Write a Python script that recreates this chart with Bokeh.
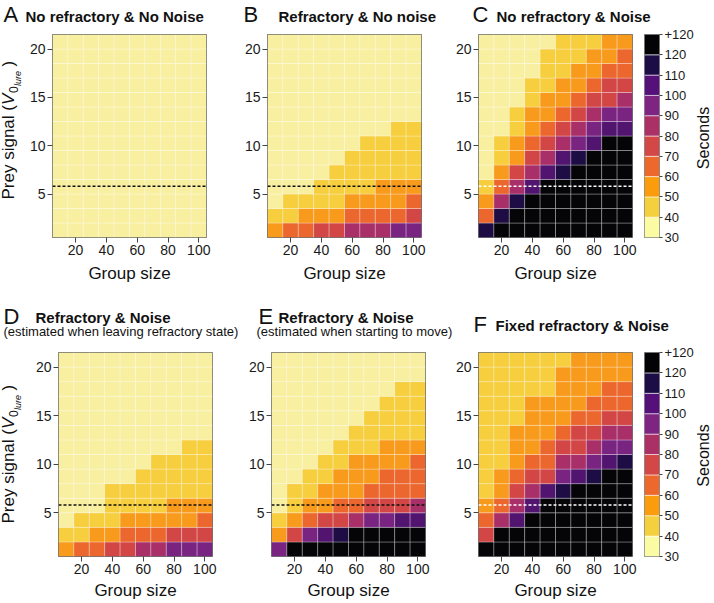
import math
from bokeh.plotting import figure
from bokeh.models import (ColumnDataSource, LinearColorMapper, FixedTicker, Span,
                          Label, Range1d)
from bokeh.layouts import row, column
from bokeh.transform import transform
from bokeh.embed import file_html
from bokeh.resources import INLINE

# ---------------- data ----------------
group_sizes = [10, 20, 30, 40, 50, 60, 70, 80, 90, 100]
prey_signal = [1.25, 2.75, 4.25, 5.75, 7.25, 8.75, 10.25, 11.75,
               13.25, 14.75, 16.25, 17.75, 19.25, 20.75]
x_ticks = [20, 40, 60, 80, 100]
y_ticks = [5, 10, 15, 20]
band_edges = [30, 40, 50, 60, 70, 80, 90, 100, 110, 120, 130]
band_label_overrides = {130: "+120"}
threshold_signal = 5.8

# seconds per cell, rows from lowest prey signal (bottom) to highest (top)
times_A = [
    [35, 35, 35, 35, 35, 35, 35, 35, 35, 35],
    [35, 35, 35, 35, 35, 35, 35, 35, 35, 35],
    [35, 35, 35, 35, 35, 35, 35, 35, 35, 35],
    [35, 35, 35, 35, 35, 35, 35, 35, 35, 35],
    [35, 35, 35, 35, 35, 35, 35, 35, 35, 35],
    [35, 35, 35, 35, 35, 35, 35, 35, 35, 35],
    [35, 35, 35, 35, 35, 35, 35, 35, 35, 35],
    [35, 35, 35, 35, 35, 35, 35, 35, 35, 35],
    [35, 35, 35, 35, 35, 35, 35, 35, 35, 35],
    [35, 35, 35, 35, 35, 35, 35, 35, 35, 35],
    [35, 35, 35, 35, 35, 35, 35, 35, 35, 35],
    [35, 35, 35, 35, 35, 35, 35, 35, 35, 35],
    [35, 35, 35, 35, 35, 35, 35, 35, 35, 35],
    [35, 35, 35, 35, 35, 35, 35, 35, 35, 35],
]
times_B = [
    [55, 65, 65, 75, 75, 85, 85, 85, 95, 95],
    [45, 45, 55, 55, 55, 65, 65, 65, 65, 75],
    [35, 45, 45, 45, 45, 55, 55, 55, 55, 65],
    [35, 35, 35, 45, 45, 45, 45, 55, 55, 55],
    [35, 35, 35, 35, 45, 45, 45, 45, 45, 45],
    [35, 35, 35, 35, 35, 45, 45, 45, 45, 45],
    [35, 35, 35, 35, 35, 35, 45, 45, 45, 45],
    [35, 35, 35, 35, 35, 35, 35, 35, 45, 45],
    [35, 35, 35, 35, 35, 35, 35, 35, 35, 35],
    [35, 35, 35, 35, 35, 35, 35, 35, 35, 35],
    [35, 35, 35, 35, 35, 35, 35, 35, 35, 35],
    [35, 35, 35, 35, 35, 35, 35, 35, 35, 35],
    [35, 35, 35, 35, 35, 35, 35, 35, 35, 35],
    [35, 35, 35, 35, 35, 35, 35, 35, 35, 35],
]
times_C = [
    [115, 125, 125, 125, 125, 125, 125, 125, 125, 125],
    [65, 115, 125, 125, 125, 125, 125, 125, 125, 125],
    [55, 85, 115, 125, 125, 125, 125, 125, 125, 125],
    [45, 65, 85, 105, 125, 125, 125, 125, 125, 125],
    [35, 55, 75, 85, 105, 115, 125, 125, 125, 125],
    [35, 45, 55, 75, 85, 105, 115, 125, 125, 125],
    [35, 45, 55, 65, 75, 85, 95, 105, 125, 125],
    [35, 35, 45, 55, 65, 75, 85, 95, 105, 105],
    [35, 35, 45, 55, 55, 65, 75, 85, 95, 95],
    [35, 35, 35, 45, 55, 55, 65, 75, 75, 85],
    [35, 35, 35, 45, 45, 55, 55, 65, 75, 75],
    [35, 35, 35, 35, 45, 45, 55, 55, 65, 65],
    [35, 35, 35, 35, 45, 45, 45, 55, 55, 65],
    [35, 35, 35, 35, 35, 45, 45, 45, 55, 55],
]
times_D = [
    [55, 65, 65, 75, 75, 85, 85, 95, 95, 95],
    [45, 45, 55, 55, 65, 65, 65, 75, 75, 75],
    [35, 45, 45, 45, 55, 55, 55, 55, 55, 65],
    [35, 35, 35, 45, 45, 45, 45, 55, 55, 55],
    [35, 35, 35, 45, 45, 45, 45, 45, 45, 45],
    [35, 35, 35, 35, 35, 45, 45, 45, 45, 45],
    [35, 35, 35, 35, 35, 35, 45, 45, 45, 45],
    [35, 35, 35, 35, 35, 35, 35, 35, 45, 45],
    [35, 35, 35, 35, 35, 35, 35, 35, 35, 35],
    [35, 35, 35, 35, 35, 35, 35, 35, 35, 35],
    [35, 35, 35, 35, 35, 35, 35, 35, 35, 35],
    [35, 35, 35, 35, 35, 35, 35, 35, 35, 35],
    [35, 35, 35, 35, 35, 35, 35, 35, 35, 35],
    [35, 35, 35, 35, 35, 35, 35, 35, 35, 35],
]
times_E = [
    [95, 125, 125, 125, 125, 125, 125, 125, 125, 125],
    [55, 75, 95, 105, 115, 125, 125, 125, 125, 125],
    [45, 55, 65, 75, 75, 85, 95, 95, 105, 105],
    [35, 45, 55, 55, 65, 65, 75, 75, 75, 85],
    [35, 45, 45, 55, 55, 55, 65, 65, 65, 65],
    [35, 35, 45, 45, 55, 55, 55, 65, 65, 65],
    [35, 35, 35, 45, 45, 55, 55, 55, 55, 65],
    [35, 35, 35, 35, 45, 45, 45, 55, 55, 55],
    [35, 35, 35, 35, 35, 45, 45, 45, 45, 45],
    [35, 35, 35, 35, 35, 35, 45, 45, 45, 45],
    [35, 35, 35, 35, 35, 35, 35, 45, 45, 45],
    [35, 35, 35, 35, 35, 35, 35, 35, 45, 45],
    [35, 35, 35, 35, 35, 35, 35, 35, 35, 35],
    [35, 35, 35, 35, 35, 35, 35, 35, 35, 35],
]
times_F = [
    [125, 125, 125, 125, 125, 125, 125, 125, 125, 125],
    [75, 125, 125, 125, 125, 125, 125, 125, 125, 125],
    [65, 85, 105, 125, 125, 125, 125, 125, 125, 125],
    [55, 65, 85, 105, 125, 125, 125, 125, 125, 125],
    [45, 55, 75, 85, 105, 115, 125, 125, 125, 125],
    [45, 55, 65, 75, 75, 95, 105, 115, 125, 125],
    [45, 45, 55, 65, 65, 85, 85, 95, 105, 115],
    [45, 45, 55, 55, 65, 75, 75, 85, 95, 95],
    [45, 45, 55, 55, 55, 65, 75, 75, 85, 85],
    [45, 45, 45, 55, 55, 55, 65, 65, 75, 75],
    [45, 45, 45, 55, 55, 55, 55, 65, 65, 65],
    [45, 45, 45, 45, 45, 55, 55, 55, 65, 65],
    [45, 45, 45, 45, 45, 55, 55, 55, 55, 55],
    [45, 45, 45, 45, 45, 45, 55, 55, 55, 55],
]

# ---------------- style ----------------
FONT = "Liberation Sans"
heat_palette = ["#F8EFA0", "#F6CE3E", "#F89A1C", "#EB672D", "#D24646",
                "#A82F68", "#7A2482", "#51156F", "#1D0D44", "#050508"]
bar_palette = ["#FAFBA2", "#F5D03E", "#FA9C0C", "#EC682C", "#D34747",
               "#AA3066", "#7E2482", "#56107A", "#1D0D46", "#030306"]
FW = 154
BASE_K = 0.35      # empirical baseline correction (fraction of font size)
ALONG_K = 6.0      # empirical along-text correction for rotated labels (px)
ROT_X = 3.0        # extra empirical shift for rotated labels (px)
UP = math.pi / 2


def add_text(p, ox, ob, px, py, text, size, style="normal", angle=0.0,
             align="left", color="#111111"):
    """Place a text with its baseline at page pixel (px, py) inside the
    canvas-filling frame of p whose bottom-left page corner is (ox, ob)."""
    if angle == 0.0:
        ax, ay = px, py - BASE_K * size
    else:
        ax, ay = px - BASE_K * size - ROT_X, py - ALONG_K
    p.add_layout(Label(x=ax - ox, y=ob - ay, x_units="screen", y_units="screen",
                       text=text, text_font=FONT, text_font_size=f"{size}px",
                       text_font_style=style, text_color=color, angle=angle,
                       text_align=align, text_baseline="alphabetic"))


def strip(w, h):
    p = figure(frame_width=w, frame_height=h, x_range=Range1d(0, w),
               y_range=Range1d(0, h), output_backend="svg", toolbar_location=None,
               x_axis_location=None, y_axis_location=None, min_border=0,
               min_border_left=0, min_border_right=0, min_border_top=0,
               min_border_bottom=0)
    p.grid.visible = False
    p.outline_line_color = None
    return p


def heat_panel(times, fh, left, right, top, bottom, dash_color, lab_standoff):
    p = figure(frame_width=FW, frame_height=fh,
               x_range=Range1d(group_sizes[0] - 5, group_sizes[-1] + 5),
               y_range=Range1d(prey_signal[0] - 0.75, prey_signal[-1] + 0.75),
               output_backend="svg", toolbar_location=None,
               min_border_left=left, min_border_right=right,
               min_border_top=top, min_border_bottom=bottom)
    xs, ys, ts = [], [], []
    for yv, vals in zip(prey_signal, times):
        for xv, t in zip(group_sizes, vals):
            xs.append(xv); ys.append(yv); ts.append(t)
    src = ColumnDataSource(dict(x=xs, y=ys, t=ts))
    mapper = LinearColorMapper(palette=heat_palette, low=band_edges[0], high=band_edges[-1])
    p.rect("x", "y", width=10, height=1.5, source=src,
           fill_color=transform("t", mapper), line_color="white",
           line_alpha=0.28, line_width=1)
    p.add_layout(Span(location=threshold_signal, dimension="width",
                      line_color=dash_color, line_dash="3 2", line_width=1.4))
    p.grid.visible = False
    p.outline_line_color = "#555555"
    p.outline_line_width = 1
    for ax, ticks in ((p.xaxis, x_ticks), (p.yaxis, y_ticks)):
        ax.ticker = FixedTicker(ticks=ticks)
        ax.axis_line_color = None
        ax.major_tick_out = 5
        ax.major_tick_in = 0
        ax.minor_tick_line_color = None
        ax.major_tick_line_color = "#444444"
        ax.major_label_text_font = FONT
        ax.major_label_text_font_size = "14px"
        ax.major_label_text_color = "#1a1a1a"
        ax.major_label_standoff = 2
    xa = p.xaxis[0]
    xa.axis_label = "Group size"
    xa.axis_label_text_font = FONT
    xa.axis_label_text_font_size = "17px"
    xa.axis_label_text_font_style = "normal"
    xa.axis_label_text_color = "#111111"
    xa.axis_label_standoff = lab_standoff
    return p


def bar_panel(fh, left, right, top, bottom):
    p = figure(frame_width=15, frame_height=fh, x_range=Range1d(0, 1),
               y_range=Range1d(band_edges[0], band_edges[-1]),
               output_backend="svg", toolbar_location=None,
               x_axis_location=None, y_axis_location="right",
               min_border_left=left, min_border_right=right,
               min_border_top=top, min_border_bottom=bottom)
    src = ColumnDataSource(dict(bottom=band_edges[:-1], top=band_edges[1:],
                                color=bar_palette))
    p.quad(left=0, right=1, bottom="bottom", top="top", fill_color="color",
           line_color="white", line_alpha=0.55, line_width=1, source=src)
    p.grid.visible = False
    p.outline_line_color = "#555555"
    ax = p.yaxis
    ax.ticker = FixedTicker(ticks=band_edges)
    ax.major_label_overrides = band_label_overrides
    ax.axis_line_color = None
    ax.major_tick_out = 3
    ax.major_tick_in = 0
    ax.minor_tick_line_color = None
    ax.major_tick_line_color = "#444444"
    ax.major_label_text_font = FONT
    ax.major_label_text_font_size = "13px"
    ax.major_label_text_color = "#1a1a1a"
    ax.major_label_standoff = 2
    return p


def y_label(p, ox, ob, bx, start_y):
    # Prey signal (V_{0_{lure}})
    add_text(p, ox, ob, bx, start_y, "Prey signal (", 17, angle=UP)
    add_text(p, ox, ob, bx, start_y - 94.5, "V", 17, style="italic", angle=UP)
    add_text(p, ox, ob, bx + 4, start_y - 106.5, "0", 12, angle=UP)
    add_text(p, ox, ob, bx + 7, start_y - 113.5, "lure", 9, style="italic", angle=UP)
    add_text(p, ox, ob, bx, start_y - 133, ")", 17, angle=UP)


# ---------------- layout (page pixels) ----------------
# row 1: title strip 0-26, panels 26-300 (frames 34-237)
# row 2: title strip 300-345, panels 345-603 (frames 352-556)
T1 = strip(714, 26)
add_text(T1, 0, 26, 3, 21.7, "A", 22)
add_text(T1, 0, 26, 25, 21.3, "No refractory & No Noise", 15, style="bold")
add_text(T1, 0, 26, 243, 21.7, "B", 22)
add_text(T1, 0, 26, 278, 21.3, "Refractory & No noise", 15, style="bold")
add_text(T1, 0, 26, 472, 21.7, "C", 22)
add_text(T1, 0, 26, 496, 21.3, "No refractory & Noise", 15, style="bold")

T2 = strip(714, 45)
add_text(T2, 0, 345, 3, 323.3, "D", 22)
add_text(T2, 0, 345, 35, 322.3, "Refractory & Noise", 15, style="bold")
add_text(T2, 0, 345, 3, 335.6, "(estimated when leaving refractory state)", 13)
add_text(T2, 0, 345, 258, 323.3, "E", 22)
add_text(T2, 0, 345, 278, 322.3, "Refractory & Noise", 15, style="bold")
add_text(T2, 0, 345, 256, 335.6, "(estimated when starting to move)", 13)
add_text(T2, 0, 345, 473, 331.7, "F", 22)
add_text(T2, 0, 345, 495, 330.7, "Fixed refractory & Noise", 15, style="bold")

YL1 = strip(24, 274)
y_label(YL1, 0, 300, 16.5, 197)
YL2 = strip(24, 258)
y_label(YL2, 0, 603, 16.5, 522)

S1 = strip(21, 274)
add_text(S1, 693, 300, 708.5, 135.5, "Seconds", 16, angle=UP, align="center")
S2 = strip(21, 258)
add_text(S2, 693, 603, 708.5, 454, "Seconds", 16, angle=UP, align="center")

pA = heat_panel(times_A, 203, 28, 19, 8, 63, "#111111", 6)
pB = heat_panel(times_B, 203, 42, 19, 8, 63, "#111111", 6)
pC = heat_panel(times_C, 203, 38, 8, 8, 63, "#ffffff", 6)
cb1 = bar_panel(203, 4, 34, 8, 63)

pD = heat_panel(times_D, 204, 34, 18, 7, 47, "#111111", 4)
pE = heat_panel(times_E, 204, 41, 15, 7, 47, "#111111", 4)
pF = heat_panel(times_F, 204, 38, 8, 7, 47, "#ffffff", 4)
cb2 = bar_panel(204, 4, 34, 7, 47)

layout = column(T1, row(YL1, pA, pB, pC, cb1, S1),
                T2, row(YL2, pD, pE, pF, cb2, S2))

with open("out.html", "w") as f:
    f.write(file_html(layout, INLINE))
